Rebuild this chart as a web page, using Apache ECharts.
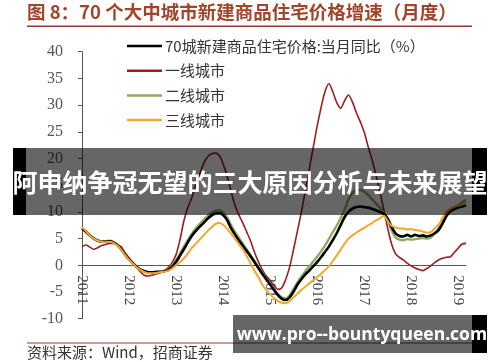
<!DOCTYPE html>
<html>
<head>
<meta charset="utf-8">
<script src="https://cdn.jsdelivr.net/npm/echarts@6/dist/echarts.min.js"></script>
<style>
html,body{margin:0;padding:0;background:#fff;}
#c{width:500px;height:362px;}
</style>
</head>
<body>
<div id="c"></div>
<script>
// ---- data ----
const years = ['2011','2012','2013','2014','2015','2016','2017','2018','2019'];
const monthsInLastYear = 3;
const seriesNames = ['70城新建商品住宅价格:当月同比（%）','一线城市','二线城市','三线城市'];

const city70 = [6.9,6.3,5.6,5.0,4.6,4.4,4.4,4.5,4.3,3.8,3.0,2.0,
  1.1,0.4,-0.3,-0.8,-1.1,-1.3,-1.3,-1.2,-1.2,-1.1,-0.9,-0.3,
  0.6,1.8,3.0,4.3,5.5,6.4,7.2,7.9,8.7,9.3,9.7,9.8,
  9.4,8.5,7.0,5.8,4.7,3.7,2.7,1.7,0.6,-0.5,-1.6,-2.6,
  -3.6,-4.6,-5.6,-6.3,-6.5,-6.0,-4.9,-3.6,-2.6,-1.7,-1.0,-0.2,
  0.6,1.5,2.5,3.5,4.7,6.0,7.5,9.0,10.0,10.6,10.9,11.0,
  10.9,10.8,10.6,10.3,10.0,9.6,8.8,7.2,6.0,5.5,5.4,5.7,
  5.4,5.7,5.5,5.6,5.4,5.6,6.0,6.6,7.8,9.2,10.1,10.5,
  10.8,11.0,11.3];
const tier1 = [3.5,3.8,3.4,3.0,3.3,3.7,3.9,4.1,4.1,3.8,3.5,2.3,
  1.4,0.4,-0.4,-1.3,-1.9,-2.0,-1.8,-1.6,-1.4,-1.0,-0.4,0.5,
  2.0,4.8,8.3,10.8,12.6,15.0,17.0,19.0,20.3,20.9,21.0,20.6,
  19.0,16.8,14.0,11.3,9.5,8.0,6.3,4.6,2.5,0.7,-0.8,-2.0,
  -2.9,-3.8,-4.5,-4.2,-2.6,-0.3,3.0,6.5,10.0,14.0,18.0,22.0,
  26.0,29.5,32.5,34.0,32.5,30.5,29.4,30.8,31.9,30.6,28.6,26.9,
  25.0,22.3,19.8,17.0,13.8,10.5,7.0,4.0,2.2,1.5,1.0,0.4,
  -0.1,-0.5,-0.8,-1.0,-0.6,-0.1,0.5,1.0,1.3,1.5,1.6,2.4,
  3.2,4.0,4.1];
const tier2 = [7.0,6.4,5.7,5.1,4.7,4.5,4.5,4.6,4.4,3.9,3.1,2.1,
  1.1,0.3,-0.4,-0.9,-1.2,-1.3,-1.3,-1.3,-1.2,-1.1,-0.8,-0.1,
  0.9,2.2,3.5,4.7,5.9,6.9,7.7,8.5,9.2,9.8,10.2,10.3,
  9.9,9.0,7.6,6.3,5.2,4.1,3.0,1.9,0.8,-0.3,-1.4,-2.5,
  -3.5,-4.5,-5.4,-6.0,-6.2,-5.6,-4.4,-3.2,-2.1,-1.1,-0.2,0.7,
  1.6,2.6,3.7,4.9,6.2,7.4,8.8,10.4,12.3,13.5,14.1,14.1,
  13.8,13.2,12.4,11.6,10.8,9.9,8.4,6.6,5.2,4.8,4.7,4.9,
  4.8,4.9,5.0,5.1,5.0,5.2,5.9,6.9,8.2,9.5,10.4,10.9,
  11.3,11.8,12.2];
const tier3 = [7.1,6.4,5.6,5.0,4.6,4.4,4.3,4.4,4.2,3.7,2.9,1.9,
  1.0,0.3,-0.4,-0.9,-1.3,-1.5,-1.5,-1.4,-1.3,-1.2,-1.0,-0.6,
  0.0,0.6,1.3,2.2,3.2,4.0,4.8,5.6,6.4,7.1,7.7,7.9,
  7.6,6.9,6.0,5.0,4.0,3.0,1.8,0.4,-1.0,-2.2,-3.6,-4.6,
  -5.4,-6.1,-6.7,-7.0,-7.1,-6.7,-6.0,-5.3,-4.6,-4.0,-3.4,-2.8,
  -2.2,-1.6,-0.9,-0.2,0.8,1.8,2.9,4.0,5.0,5.6,6.1,6.6,
  7.0,7.5,7.9,8.4,8.8,9.3,8.3,7.4,7.1,6.9,6.9,6.7,
  6.8,6.6,6.5,6.3,6.1,6.2,6.9,7.6,8.9,10.0,10.6,11.0,
  11.2,11.4,11.6];

// month categories built from the year labels
const categories = [];
years.forEach((y, yi) => {
  const n = (yi === years.length - 1) ? monthsInLastYear : 12;
  for (let m = 1; m <= n; m++) categories.push(y + '-' + (m < 10 ? '0' + m : m));
});

const chart = echarts.init(document.getElementById('c'), null, {renderer: 'canvas'});
const serif = '"Liberation Serif", "DejaVu Serif", serif';
const cjk = '"Noto Sans CJK SC", sans-serif';

const gridTop = 51.7, gridBottom = 43.3, yMin = -10, yMax = 40;
const plotH = 362 - gridTop - gridBottom;
const zeroOffset = -plotH * (0 - yMin) / (yMax - yMin);

function line(name, data, color, width, z) {
  return {name, type: 'line', data, symbol: 'none', smooth: 0.3, z,
    lineStyle: {color, width}, itemStyle: {color}};
}

chart.setOption({
  animation: false,
  grid: {left: 82, right: 34, top: gridTop, bottom: gridBottom, containLabel: false},
  legend: {
    orient: 'vertical', left: 122, top: 33,
    data: seriesNames,
    icon: 'rect', itemWidth: 35, itemHeight: 2.5, itemGap: 8.7,
    textStyle: {fontFamily: cjk, fontSize: 15, color: '#333', lineHeight: 16, padding: [0, 0, 0, -2]}
  },
  xAxis: {
    type: 'category', data: categories, boundaryGap: false,
    offset: zeroOffset,
    axisLine: {onZero: false, lineStyle: {color: '#555', width: 1}},
    axisTick: {show: false},
    axisLabel: {
      interval: (i) => i % 12 === 0,
      formatter: (v) => v.slice(0, 4),
      rotate: -90, margin: 10,
      fontFamily: serif, fontSize: 15, color: '#444'
    },
    splitLine: {show: false}
  },
  yAxis: {
    type: 'value', min: yMin, max: yMax, interval: 5,
    axisLine: {show: true, onZero: false, lineStyle: {color: '#555'}},
    axisTick: {show: true, length: 4, lineStyle: {color: '#555'}},
    axisLabel: {margin: 19, fontFamily: serif, fontSize: 16, color: '#555'},
    splitLine: {show: false}
  },
  series: [
    line(seriesNames[1], tier1, '#9a1e22', 1.6, 2),
    line(seriesNames[2], tier2, '#8eaa5c', 2.4, 3),
    line(seriesNames[0], city70, '#000000', 2.6, 4),
    line(seriesNames[3], tier3, '#f5a62b', 2, 5)
  ],
  graphic: [
    {type: 'text', left: 27, top: 3, z: 10,
      style: {text: '图 8：70 个大中城市新建商品住宅价格增速（月度）', fontFamily: cjk, fontWeight: 'bold', fontSize: 18.5, fill: '#a0452a'}},
    {type: 'rect', shape: {x: 27, y: 25.5, width: 445, height: 1.5}, style: {fill: '#8b3c30'}, z: 10},
    {type: 'rect', shape: {x: 27, y: 342.5, width: 445, height: 1}, style: {fill: '#8b3c30'}, z: 10},
    {type: 'text', left: 27, top: 345, z: 10,
      style: {text: '资料来源：Wind，招商证券', fontFamily: cjk, fontSize: 15, fill: '#333'}},
    // overlay banner
    {type: 'rect', shape: {x: 26, y: 148, width: 446, height: 67}, style: {fill: 'rgba(0,0,0,0.6)'}, z: 50},
    {type: 'rect', shape: {x: 13, y: 148, width: 13, height: 67}, style: {fill: '#000'}, z: 50},
    {type: 'rect', shape: {x: 472, y: 148, width: 15, height: 67}, style: {fill: '#000'}, z: 50},
    {type: 'text', z: 51, x: 250, y: 182,
      style: {text: '阿申纳争冠无望的三大原因分析与未来展望', fontFamily: cjk, fontWeight: 'bold', fontSize: 25, fill: '#fff', textAlign: 'center', textVerticalAlign: 'middle'}},
    // watermark
    {type: 'rect', shape: {x: 233, y: 315, width: 239, height: 38}, style: {fill: 'rgba(0,0,0,0.6)'}, z: 50},
    {type: 'rect', shape: {x: 472, y: 315, width: 15, height: 38}, style: {fill: '#000'}, z: 50},
    {type: 'text', z: 51, x: 362, y: 335,
      style: {text: 'www.pro--bountyqueen.com', fontFamily: '"Open Sans", sans-serif', fontWeight: 'bold', fontSize: 17.5, fill: '#fff', textAlign: 'center', textVerticalAlign: 'middle'}}
  ]
});
</script>
</body>
</html>
